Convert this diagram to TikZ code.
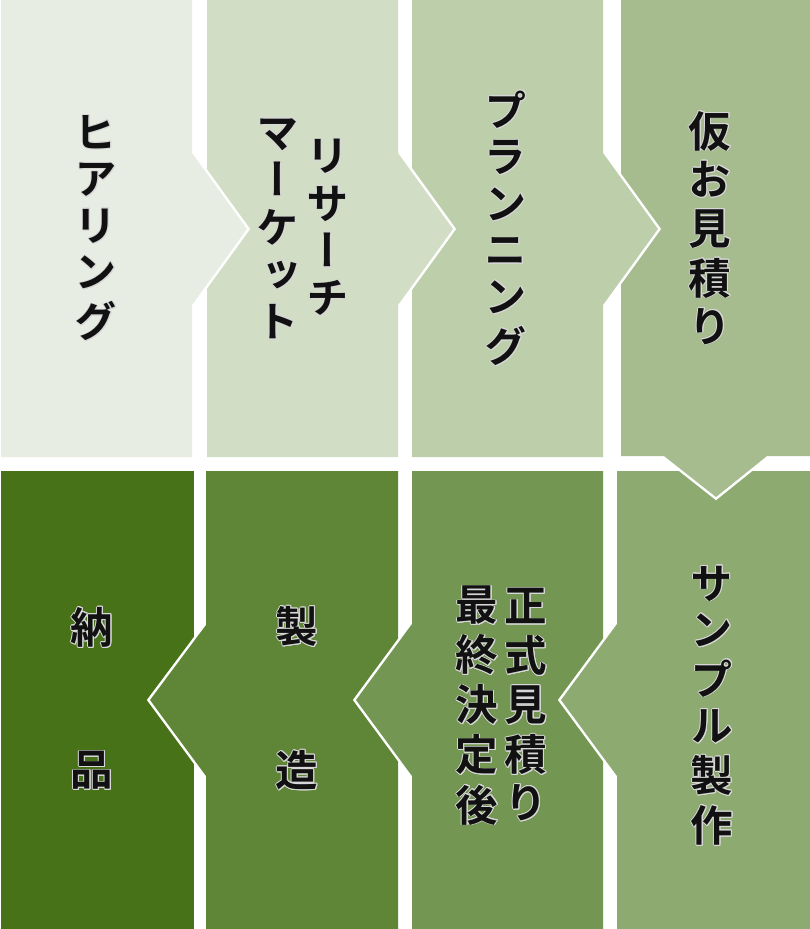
\documentclass[tikz,border=0pt]{standalone}
\usepackage{fontspec}
\usepackage[copies]{contour}
\newfontfamily\jpv{Noto Sans CJK JP Bold}[RawFeature=+vert]
\definecolor{cA}{HTML}{E8EDE3}
\definecolor{cB}{HTML}{D2DDC5}
\definecolor{cC}{HTML}{BDCEAB}
\definecolor{cD}{HTML}{A6BB8E}
\definecolor{cE}{HTML}{8DAA71}
\definecolor{cF}{HTML}{739752}
\definecolor{cG}{HTML}{5F8636}
\definecolor{cH}{HTML}{477218}
\definecolor{ink}{HTML}{111111}
\definecolor{halo}{HTML}{D8D8D8}
\contourlength{0.8pt}
\contournumber{16}
\newcommand\vcol[1]{\contour{halo}{\begin{tabular}{@{}c@{}}#1\end{tabular}}}
\tikzset{
  txt/.style={inner sep=0pt, text=ink, font=\jpv\fontsize{42.5}{46.5}\selectfont},
  gapline/.style={draw=white, line width=5pt, line join=miter, fill=none}
}
\begin{document}
\begin{tikzpicture}[x=1pt,y=-1pt]
\useasboundingbox (0,0) rectangle (810,929);
\fill[white] (0,0) rectangle (810,929);
% bottom row
\fill[cH] (1,471) rectangle (194,929);
\draw[gapline] (206,625) -- (150,700) -- (206,776);
\fill[cG] (206,471) -- (398,471) -- (398,929) -- (206,929) -- (206,776) -- (150,700) -- (206,625) -- cycle;
\draw[gapline] (412,624) -- (356,700) -- (412,776);
\fill[cF] (412,471) -- (603,471) -- (603,929) -- (412,929) -- (412,776) -- (356,700) -- (412,624) -- cycle;
\draw[gapline] (617,624) -- (561,700) -- (617,776);
\fill[cE] (617,471) -- (810,471) -- (810,929) -- (617,929) -- (617,776) -- (561,700) -- (617,624) -- cycle;
% top row
\draw[gapline] (664,456) -- (716,497) -- (767,456);
\fill[cD] (621,0) -- (810,0) -- (810,456) -- (767,456) -- (716,497) -- (664,456) -- (621,456) -- cycle;
\draw[gapline] (603,153) -- (658,229) -- (603,305);
\fill[cC] (412,0) -- (603,0) -- (603,153) -- (658,229) -- (603,305) -- (603,457) -- (412,457) -- cycle;
\draw[gapline] (398,153) -- (453,229) -- (398,305);
\fill[cB] (207,0) -- (398,0) -- (398,153) -- (453,229) -- (398,305) -- (398,457) -- (207,457) -- cycle;
\draw[gapline] (192,153) -- (247,229) -- (192,305);
\fill[cA] (1,0) -- (192,0) -- (192,153) -- (247,229) -- (192,305) -- (192,457) -- (1,457) -- cycle;
% texts
\node[txt] (t1) at (96,234) {\vcol{ヒ\\ア\\リ\\ン\\グ}};
\node[txt] (t2a) at (328,234) {\vcol{リ\\サ\\ー\\チ}};
\node[txt] (t2b) at (278,234) {\vcol{マ\\ー\\ケ\\ッ\\ト}};
\node[txt] (t3) at (506,234) {\vcol{プ\\ラ\\ン\\ニ\\ン\\グ}};
\node[txt] (t4) at (710,234) {\vcol{仮\\お\\見\\積\\り}};
\node[txt] (t5) at (712,711) {\vcol{サ\\ン\\プ\\ル\\製\\作}};
\node[txt] (t6a) at (526,711) {\vcol{正\\式\\見\\積\\り}};
\node[txt] (t6b) at (477,711) {\vcol{最\\終\\決\\定\\後}};
\node[txt] (t7) at (297,704) {\vcol{製\\[94pt]造}};
\node[txt] (t8) at (92,704) {\vcol{納\\[94pt]品}};
\end{tikzpicture}
\end{document}
